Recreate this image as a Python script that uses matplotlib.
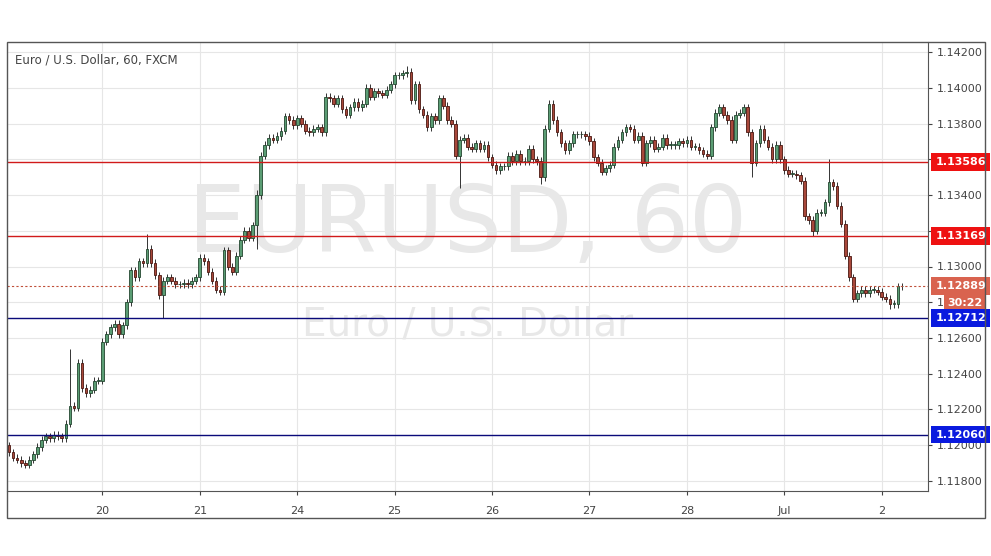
import matplotlib.pyplot as plt
from matplotlib.patches import Rectangle

# hourly closes, 19 Jun 01:00 -> 2 Jul 05:00 (weekend skipped)
closes = [
    1.1196, 1.1193, 1.1192, 1.1190, 1.1189, 1.1192, 1.1195, 1.1199, 1.1203, 1.1205,
    1.1204, 1.1206, 1.1205, 1.1204, 1.1212, 1.1222, 1.1221, 1.1246, 1.1232, 1.1229,
    1.1231, 1.1236, 1.1236, 1.1258, 1.1262, 1.1266, 1.1268, 1.1262, 1.1267, 1.1280,
    1.1298, 1.1294, 1.1303, 1.1302, 1.1310, 1.1302, 1.1295, 1.1284, 1.1292, 1.1294,
    1.1292, 1.1290, 1.1290, 1.1291, 1.1290, 1.1292, 1.1294, 1.1305, 1.1303, 1.1297,
    1.1292, 1.1287, 1.1286, 1.1309, 1.1300, 1.1297, 1.1306, 1.1315, 1.1320, 1.1316,
    1.1323, 1.1340, 1.1362, 1.1368, 1.1372, 1.1371, 1.1373, 1.1376, 1.1384, 1.1382,
    1.1379, 1.1383, 1.1380, 1.1376, 1.1375, 1.1377, 1.1378, 1.1375, 1.1395, 1.1394,
    1.1391, 1.1394, 1.1388, 1.1385, 1.1389, 1.1392, 1.1389, 1.1391, 1.1400, 1.1395,
    1.1398, 1.1397, 1.1396, 1.1399, 1.1402, 1.1407, 1.1407, 1.1408, 1.1409, 1.1393,
    1.1402, 1.1388, 1.1385, 1.1378, 1.1384, 1.1382, 1.1394, 1.1390, 1.1382, 1.1380,
    1.1362, 1.1371, 1.1372, 1.1367, 1.1366, 1.1369, 1.1366, 1.1368, 1.1361, 1.1357,
    1.1354, 1.1356, 1.1356, 1.1362, 1.1359, 1.1363, 1.1359, 1.1359, 1.1366, 1.1360,
    1.1359, 1.1350, 1.1377, 1.1391, 1.1382, 1.1375, 1.1369, 1.1365, 1.1369, 1.1374,
    1.1374, 1.1374, 1.1373, 1.1370, 1.1361, 1.1358, 1.1353, 1.1355, 1.1357, 1.1367,
    1.1371, 1.1375, 1.1378, 1.1377, 1.1371, 1.1373, 1.1358, 1.1369, 1.1371, 1.1366,
    1.1367, 1.1372, 1.1368, 1.1368, 1.1368, 1.1370, 1.1369, 1.1371, 1.1367, 1.1367,
    1.1365, 1.1363, 1.1362, 1.1378, 1.1386, 1.1389, 1.1385, 1.1382, 1.1371, 1.1385,
    1.1386, 1.1389, 1.1375, 1.1358, 1.1369, 1.1377, 1.1371, 1.1367, 1.1360, 1.1368,
    1.1360, 1.1354, 1.1352, 1.1352, 1.1351, 1.1348, 1.1328, 1.1326, 1.1320, 1.1330,
    1.1330, 1.1336, 1.1347, 1.1345, 1.1334, 1.1324, 1.1306, 1.1294, 1.1282, 1.1285,
    1.1287, 1.1285, 1.1287, 1.1287, 1.1286, 1.1283, 1.1282, 1.1279, 1.1279, 1.1289,
    1.1289,
]
first_open = 1.1200
# notable wicks: candle index -> (high, low)
long_wicks = {
    15: (1.1254, None), 34: (1.1318, None), 38: (None, 1.1271), 61: (1.1343, 1.1310),
    98: (1.1412, None), 111: (None, 1.1344), 131: (None, 1.1346), 183: (None, 1.1350),
    198: (None, 1.1317), 202: (1.1360, None), 217: (None, 1.1276),
}
default_wick = 0.0002

day_labels = ["20", "21", "24", "25", "26", "27", "28", "Jul", "2"]
day_index = [23, 47, 71, 95, 119, 143, 167, 191, 215]
y_ticks = [1.118 + 0.002 * k for k in range(13)]

resistance = [1.13586, 1.13169]
support = [1.12712, 1.12060]
last_price = 1.12889

fig = plt.figure(figsize=(9.91, 5.56), dpi=100)
ax = fig.add_axes([7 / 991, 65 / 556, 921 / 991, 449 / 556])
fig.patches.append(Rectangle((7 / 991, 38 / 556), 978 / 991, 476 / 556,
                             transform=fig.transFigure, fill=False, ec="#555555", lw=1))

up_c, up_e = "#5b9d74", "#23452f"
dn_c, dn_e = "#a8483b", "#4a1610"
prev = first_open
for i, c in enumerate(closes):
    o = prev
    hi, lo = max(o, c) + default_wick, min(o, c) - default_wick
    if i in long_wicks:
        h2, l2 = long_wicks[i]
        hi = h2 if h2 else hi
        lo = l2 if l2 else lo
    up = c >= o
    ax.vlines(i, lo, hi, color="#333333", lw=0.7, zorder=2)
    body = max(abs(c - o), 0.00003)
    ax.add_patch(Rectangle((i - 0.33, min(o, c)), 0.66, body,
                           fc=up_c if up else dn_c, ec=up_e if up else dn_e, lw=0.6, zorder=3))
    prev = c

for lvl in resistance:
    ax.axhline(lvl, color="#d11a1a", lw=1, zorder=4)
for lvl in support:
    ax.axhline(lvl, color="#0a0a7a", lw=1, zorder=4)
ax.axhline(last_price, color="#c0503a", lw=0.8, ls=(0, (2, 2)), zorder=4)

ax.set_xlim(-0.5, 226.4)
ax.set_ylim(1.11744, 1.14256)
ax.set_xticks(day_index)
ax.set_xticklabels(day_labels)
ax.set_yticks(y_ticks)
ax.set_yticklabels([f"{v:.5f}" for v in y_ticks])
ax.yaxis.tick_right()
ax.tick_params(axis="both", labelsize=8, colors="#444444", length=3)
ax.tick_params(axis="x", pad=8)
ax.grid(True, color="#e6e6e6", lw=0.8)
ax.set_axisbelow(True)
for s in ["top", "left"]:
    ax.spines[s].set_visible(False)
for s in ["right", "bottom"]:
    ax.spines[s].set_color("#555555")
# labels hidden behind the level boxes
for lab, v in zip(ax.get_yticklabels(), y_ticks):
    if abs(v - 1.136) < 1e-6 or abs(v - 1.132) < 1e-6:
        lab.set_visible(False)

ax.text(0.5, 0.59, "EURUSD, 60", transform=ax.transAxes, ha="center", va="center",
        fontsize=66, color="#e8e8e8", zorder=1)
ax.text(0.5, 0.37, "Euro / U.S. Dollar", transform=ax.transAxes, ha="center", va="center",
        fontsize=28, color="#e8e8e8", zorder=1)
ax.text(0.009, 0.96, "Euro / U.S. Dollar, 60, FXCM", transform=ax.transAxes,
        fontsize=8.5, color="#444444", va="center")

def price_box(lvl, text, color):
    ax.text(1.008, lvl, text, transform=ax.get_yaxis_transform(), ha="left", va="center",
            fontsize=8, fontweight="bold", color="white", zorder=6,
            bbox=dict(boxstyle="square,pad=0.35", fc=color, ec="none"))

price_box(resistance[0], "1.13586", "#ee1111")
price_box(resistance[1], "1.13169", "#ee1111")
price_box(last_price, "1.12889", "#d9634f")
ax.text(1.021, last_price - 0.00095, "30:22", transform=ax.get_yaxis_transform(), ha="left",
        va="center", fontsize=8, fontweight="bold", color="white", zorder=6,
        bbox=dict(boxstyle="square,pad=0.3", fc="#d9634f", ec="none"))
price_box(support[0], "1.12712", "#0a1adf")
price_box(support[1], "1.12060", "#0a1adf")

fig.savefig("out.png", dpi=100)
